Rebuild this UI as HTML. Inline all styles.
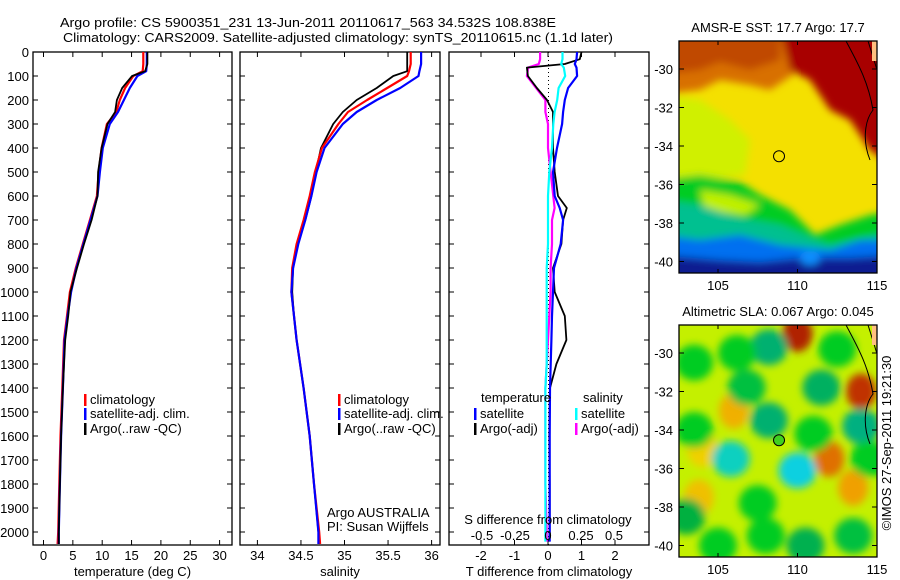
<!DOCTYPE html>
<html><head><meta charset="utf-8"><style>
html,body{margin:0;padding:0;background:#fff;}
svg{display:block;font-family:"Liberation Sans",sans-serif;}
text{font-size:13px;fill:#000;}
</style></head><body>
<svg id="fig" width="900" height="580" viewBox="0 0 900 580" xmlns="http://www.w3.org/2000/svg">
<defs>
<filter id="blur6" x="-20%" y="-20%" width="140%" height="140%"><feGaussianBlur stdDeviation="4"/></filter>
<filter id="blur4" x="-30%" y="-30%" width="160%" height="160%"><feGaussianBlur stdDeviation="4"/></filter>
<clipPath id="clipM1"><rect x="679" y="41" width="198" height="232"/></clipPath>
<clipPath id="clipM2"><rect x="679" y="325" width="198" height="232"/></clipPath>
</defs>
<text x="308" y="27" text-anchor="middle" textLength="496" lengthAdjust="spacingAndGlyphs">Argo profile: CS 5900351_231 13-Jun-2011 20110617_563 34.532S 108.838E</text>
<text x="338" y="42" text-anchor="middle" textLength="550" lengthAdjust="spacingAndGlyphs">Climatology: CARS2009. Satellite-adjusted climatology: synTS_20110615.nc (1.1d later)</text>
<g id="g1"></g>
<g id="g2"></g>
<g id="g3"></g>
<g id="m1"></g>
<g id="m2"></g>
<text transform="translate(891,443) rotate(-90)" text-anchor="middle" font-size="13">©IMOS 27-Sep-2011 19:21:30</text>
</svg>
<script>
// ---- data ----
const depths = [0,50,80,100,150,200,250,300,400,500,600,700,800,900,1000,1100,1200,1400,1600,1800,2000,2050];
const tempClim = [17.0,17.0,16.9,15.3,13.9,13.0,12.4,10.8,9.9,9.4,9.1,7.9,6.7,5.5,4.5,4.0,3.5,3.2,2.9,2.7,2.5,2.4];
const tempSat  = [17.6,17.6,17.5,16.0,14.7,13.7,12.7,11.3,10.1,9.6,9.2,8.0,6.8,5.6,4.7,4.1,3.6,3.3,3.0,2.8,2.6,2.6];
const tempArgo = [17.7,17.7,17.3,15.1,13.4,12.5,12.2,10.9,9.9,9.3,9.2,8.2,6.9,5.7,4.6,4.2,3.7,3.3,3.0,2.8,2.6,2.6];
const salClim = [35.76,35.76,35.74,35.72,35.49,35.26,35.04,34.93,34.74,34.66,34.60,34.53,34.45,34.40,34.39,34.42,34.45,34.53,34.60,34.65,34.71,34.72];
const salSat  = [35.88,35.88,35.86,35.85,35.64,35.37,35.14,34.98,34.77,34.68,34.62,34.55,34.47,34.41,34.39,34.42,34.45,34.53,34.60,34.65,34.70,34.70];
const salArgo = [35.72,35.72,35.72,35.56,35.37,35.14,34.98,34.87,34.73,34.67,34.62,34.55,34.46,34.41,34.40,34.42,34.45,34.53,34.60,34.65,34.70,34.70];
const diffDepths = [0,30,50,65,100,150,200,250,300,400,500,600,650,700,800,900,1000,1100,1200,1300,1400,1600,1800,2000,2040];
const dTsat  = [0.87,0.85,0.8,0.85,0.87,0.6,0.5,0.45,0.42,0.27,0.15,0.2,0.35,0.45,0.38,0.18,0.15,0.12,0.1,0.08,0.06,0.05,0.05,0.05,0.05];
const dTargo = [1.0,0.95,0.5,-0.63,-0.6,-0.33,-0.03,0.15,0.15,0.15,0.2,0.3,0.56,0.45,0.4,0.15,0.2,0.5,0.55,0.25,0.06,0.04,0.05,0.05,0.03];
const dSsat  = [0.11,0.11,0.10,0.12,0.13,0.08,0.07,0.05,0.04,0.03,0.01,0.0,0.0,0.0,0.0,-0.01,-0.01,-0.01,-0.01,-0.01,-0.02,-0.02,-0.02,-0.02,-0.02];
const dSargo = [-0.06,-0.06,-0.07,-0.15,-0.16,-0.09,-0.02,-0.02,0.0,0.0,0.02,0.04,0.05,0.03,0.03,0.02,0.02,0.01,0.0,-0.01,-0.02,-0.02,-0.02,-0.01,-0.01];
const depthTicks = [0,100,200,300,400,500,600,700,800,900,1000,1100,1200,1300,1400,1500,1600,1700,1800,1900,2000];
const tempTicks = [0,5,10,15,20,25,30];
const salTicks = [34,34.5,35,35.5,36];
const dTTicks = [-2,-1,0,1,2];
const dSTicks = [-0.5,-0.25,0,0.25,0.5];
const dSTickLabels = ['-0.5','-0.25','0','0.25','0.5'];
const lonTicks = [105,110,115];
const latTicks = [-30,-32,-34,-36,-38,-40];

const NS='http://www.w3.org/2000/svg';
function mk(parent,tag,attrs,txt){const e=document.createElementNS(NS,tag);for(const k in attrs)e.setAttribute(k,attrs[k]);if(txt!==undefined)e.textContent=txt;parent.appendChild(e);return e;}
const yD = d => 52 + d*0.24;
const TOP=52, BOT=545;

function frame(g,x0,x1,xTicks,xFn,labels,xtitle,name){
  let r=mk(g,'rect',{x:x0,y:TOP,width:x1-x0,height:BOT-TOP,fill:'none',stroke:'#000','stroke-width':1.3});
  
  
  depthTicks.forEach(d=>{
    const y=yD(d);
    mk(g,'line',{x1:x0,x2:x0+5,y1:y,y2:y,stroke:'#000'});
    mk(g,'line',{x1:x1-5,x2:x1,y1:y,y2:y,stroke:'#000'});
  });
  xTicks.forEach((v,i)=>{
    const x=xFn(v);
    mk(g,'line',{x1:x,x2:x,y1:TOP,y2:TOP+5,stroke:'#000'});
    mk(g,'line',{x1:x,x2:x,y1:BOT-5,y2:BOT,stroke:'#000'});
    if(labels){const t=mk(g,'text',{x:x,y:560,'text-anchor':'middle'},labels[i]);
      
      }
  });
  const t=mk(g,'text',{x:(x0+x1)/2,y:576,'text-anchor':'middle'},xtitle);
  
  
}
function line(g,xs,ds,xFn,color,w,name){
  const pts=xs.map((v,i)=>xFn(v).toFixed(1)+','+yD(ds[i]).toFixed(1)).join(' ');
  const p=mk(g,'polyline',{points:pts,fill:'none',stroke:color,'stroke-width':w,'stroke-linejoin':'round'});
  
  
}
function legend(g,x,y,color,label,name){
  mk(g,'rect',{x:x,y:y-10,width:2.5,height:12,fill:color});
  const t=mk(g,'text',{x:x+6,y:y},label);
  
  
}

const g1=document.getElementById('g1');
depthTicks.forEach(d=>{const t=mk(g1,'text',{x:29,y:yD(d)+5,'text-anchor':'end'},String(d));
  
  });

const xT = v => 43.5 + v*5.87;
frame(g1,33,232,tempTicks,xT,tempTicks.map(String),'temperature (deg C)','temperature');
line(g1,tempClim,depths,xT,'#f00',2.2,'temperature-climatology-line');
line(g1,tempSat,depths,xT,'#00f',2.2,'temperature-satellite-line');
line(g1,tempArgo,depths,xT,'#000',1.8,'temperature-argo-line');
legend(g1,84,404,'#f00','climatology','legend-climatology');
legend(g1,84,418,'#00f','satellite-adj. clim.','legend-satellite');
legend(g1,84,433,'#000','Argo(..raw -QC)','legend-argo');

const g2=document.getElementById('g2');
const xS = v => 257.4 + (v-34)*87.1;
frame(g2,240,440,salTicks,xS,['34','34.5','35','35.5','36'],'salinity','salinity');
line(g2,salArgo,depths,xS,'#000',1.8,'salinity-argo-line');
line(g2,salClim,depths,xS,'#f00',2.2,'salinity-climatology-line');
line(g2,salSat,depths,xS,'#00f',2.2,'salinity-satellite-line');
legend(g2,338,404,'#f00','climatology','legend-climatology');
legend(g2,338,418,'#00f','satellite-adj. clim.','legend-satellite');
legend(g2,338,433,'#000','Argo(..raw -QC)','legend-argo');
mk(g2,'text',{x:327,y:517},'Argo AUSTRALIA');
mk(g2,'text',{x:327,y:531},'PI: Susan Wijffels');

const g3=document.getElementById('g3');
const xdT = v => 548 + v*33.5;
const xdS = v => 548 + v*132;
frame(g3,449,649,dTTicks,xdT,['-2','-1','0','1','2'],'T difference from climatology','difference');
mk(g3,'line',{x1:548.5,x2:548.5,y1:TOP,y2:BOT,stroke:'#000','stroke-dasharray':'1,3'});
line(g3,dSargo,diffDepths,xdS,'#f0f',2.2,'salinity-argo-diff-line');
line(g3,dTargo,diffDepths,xdT,'#000',1.8,'temperature-argo-diff-line');
line(g3,dTsat,diffDepths,xdT,'#00f',2.2,'temperature-satellite-diff-line');
line(g3,dSsat,diffDepths,xdS,'#0ff',2.2,'salinity-satellite-diff-line');
dSTicks.forEach((v,i)=>{const t=mk(g3,'text',{x:xdS(v),y:540,'text-anchor':'middle'},dSTickLabels[i]);
  
  });
mk(g3,'text',{x:548,y:524,'text-anchor':'middle'},'S difference from climatology');
mk(g3,'text',{x:481,y:402},'temperature');
mk(g3,'text',{x:583,y:402},'salinity');
legend(g3,474,418,'#00f','satellite','legend-t-satellite');
legend(g3,474,433,'#000','Argo(-adj)','legend-t-argo');
legend(g3,575,418,'#0ff','satellite','legend-s-satellite');
legend(g3,575,433,'#f0f','Argo(-adj)','legend-s-argo');

const lonX = lon => 718 + (lon-105)*15.9;
function mapAxes(g,top,bot,lat30y,title,name){
  const latY = lat => lat30y + (-30-lat)*19.25;
  mk(g,'rect',{x:679,y:top,width:198,height:bot-top,fill:'none',stroke:'#000','stroke-width':1.3});
  latTicks.forEach(l=>{const y=latY(l);
    mk(g,'line',{x1:679,x2:684,y1:y,y2:y,stroke:'#000'});
    mk(g,'line',{x1:872,x2:877,y1:y,y2:y,stroke:'#000'});
    const t=mk(g,'text',{x:673,y:y+5,'text-anchor':'end'},String(l));
    
    });
  lonTicks.forEach(l=>{const x=lonX(l);
    mk(g,'line',{x1:x,x2:x,y1:top,y2:top+4,stroke:'#000'});
    mk(g,'line',{x1:x,x2:x,y1:bot-4,y2:bot,stroke:'#000'});
    const t=mk(g,'text',{x:x,y:bot+17,'text-anchor':'middle'},String(l));
    
    });
  const t=mk(g,'text',{x:778,y:top-9,'text-anchor':'middle'},title);
  
  
  return latY;
}
// SST map
const m1=document.getElementById('m1');
const c1=mk(m1,'g',{'clip-path':'url(#clipM1)'});
mk(c1,'rect',{x:679,y:41,width:198,height:232,fill:'#f4e000'});
const b1=mk(c1,'g',{filter:'url(#blur4)'});
mk(b1,'polygon',{points:'660,30 900,30 900,100 860,95 830,75 800,70 770,90 750,85 720,80 700,90 660,95',fill:'#d87000'});
mk(b1,'polygon',{points:'660,30 780,30 780,60 750,70 720,62 700,70 660,75',fill:'#c04800'});
mk(b1,'polygon',{points:'780,30 900,30 900,170 870,150 850,120 830,110 810,80 790,70',fill:'#a80000'});
mk(b1,'polygon',{points:'660,95 700,100 730,120 750,140 745,175 700,180 660,180',fill:'#d0f000'});
mk(b1,'polygon',{points:'660,180 700,175 740,182 760,195 790,210 815,235 840,225 870,215 900,210 900,300 660,300',fill:'#00cc20'});
mk(b1,'polygon',{points:'700,190 730,195 760,205 745,215 705,210',fill:'#c0f000'});
mk(b1,'polygon',{points:'660,200 700,205 740,218 780,225 830,245 900,230 900,300 660,300',fill:'#00c090'});
mk(b1,'polygon',{points:'660,235 700,240 740,235 780,245 830,250 860,240 900,240 900,300 660,300',fill:'#0070f0'});
mk(b1,'polygon',{points:'660,255 720,260 760,262 800,258 850,258 900,255 900,300 660,300',fill:'#0a1c90'});
mk(b1,'ellipse',{cx:810,cy:258,rx:10,ry:7,fill:'#1090ff'});
mk(c1,'path',{d:'M846,41 C856,60 868,80 873,110 C865,120 862,140 870,160 M868,41 L874,60 L877,70',fill:'none',stroke:'#000','stroke-width':1});
mk(c1,'rect',{x:872,y:41,width:6,height:20,fill:'#ffc080'});
mapAxes(m1,41,273,69,'AMSR-E SST: 17.7 Argo: 17.7','sst-map');
const lat1 = lat => 69 + (-30-lat)*19.25;
let ac=mk(m1,'circle',{cx:lonX(108.838),cy:lat1(-34.532),r:5.5,fill:'none',stroke:'#000','stroke-width':1});



// SLA map
const slaBlobsLon = [108.2,106.8,111.5,108.2,105.8,110.0,114.0,103.5,103.5,106.2,112.5,103.0,108.0,107.5,113.5,110.5,111.0,105.0,114.5];
const slaBlobsLat = [-29.7,-31.8,-31.8,-33.5,-35.5,-36.1,-33.8,-30.5,-34.0,-30.0,-29.8,-38.5,-39.5,-37.8,-39.5,-40.0,-34.2,-40.0,-35.5];
const slaBlobsCol = ['#00b070','#00c040','#00b060','#00b070','#10d0c0','#10d0e0','#00b080','#00cc20','#00cc20','#00cc20','#00cc20','#00b040','#00cc20','#00cc20','#00c040','#00b050','#00cc20','#00cc20','#00cc20'];
const slaHotLon = [110.0,114.0,112.0,106.0,103.8,113.5,104.0];
const slaHotLat = [-29.0,-32.0,-35.5,-33.0,-37.5,-37.0,-35.0];
const slaHotCol = ['#b02000','#c03000','#e07000','#f0b000','#f0c000','#f0a000','#f0d000'];
const m2=document.getElementById('m2');
const c2=mk(m2,'g',{'clip-path':'url(#clipM2)'});
mk(c2,'rect',{x:679,y:325,width:198,height:232,fill:'#c4f000'});
const lat2 = lat => 353 + (-30-lat)*19.25;
const b2=mk(c2,'g',{filter:'url(#blur6)'});
slaHotLon.forEach((lo,i)=>{const e=mk(b2,'ellipse',{cx:lonX(lo),cy:lat2(slaHotLat[i]),rx:15,ry:18,fill:slaHotCol[i]});
  
  });
slaBlobsLon.forEach((lo,i)=>{const e=mk(b2,'ellipse',{cx:lonX(lo),cy:lat2(slaBlobsLat[i]),rx:19,ry:18,fill:slaBlobsCol[i]});
  
  });
mk(c2,'path',{d:'M846,325 C856,344 868,364 873,394 C865,404 862,424 870,444 M868,325 L874,344 L877,354',fill:'none',stroke:'#000','stroke-width':1});
mk(c2,'rect',{x:872,y:325,width:6,height:20,fill:'#ffc080'});
mapAxes(m2,325,557,353,'Altimetric SLA: 0.067 Argo: 0.045','sla-map');
let ac2=mk(m2,'circle',{cx:lonX(108.838),cy:lat2(-34.532),r:5.5,fill:'#40d020',stroke:'#000','stroke-width':1});


</script>
</body></html>
